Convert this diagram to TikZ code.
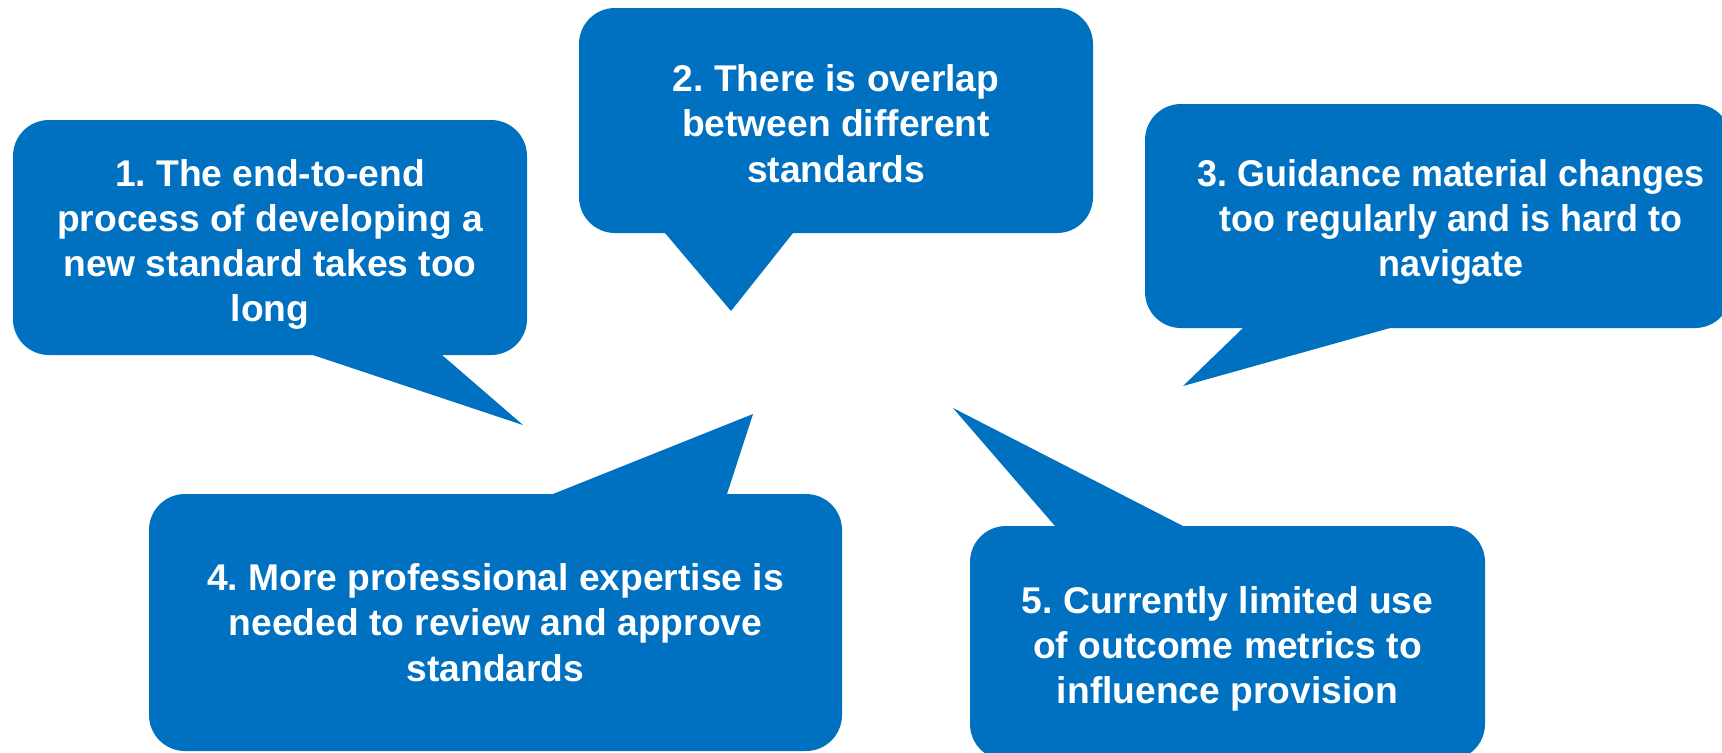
\documentclass[tikz,border=0pt]{standalone}
\usepackage{fontspec}
\setmainfont{Liberation Sans}
\newfontfamily\narrowsans[FakeStretch=0.965]{Liberation Sans}
\definecolor{bubbleblue}{RGB}{0,112,192}
\tikzset{
  bubble/.style={fill=bubbleblue, draw=none, rounded corners=18pt, inner sep=0pt},
  tail/.style={fill=bubbleblue, draw=none},
  bubbletext/.style={text=white, align=center,
    font=\fontsize{18.6}{22.6}\selectfont\bfseries}
}
\begin{document}
\frenchspacing
\begin{tikzpicture}[x=0.5pt, y=-0.5pt]
  \clip (0,0) rectangle (1722,752);
  \fill[white] (0,0) rectangle (1722,752);

  % speech bubble 1
  \node[bubble, minimum width=257pt, minimum height=117.5pt] (b1) at (270,237.5) {};
  \node[bubbletext, yshift=-3.5pt] (b1text) at (b1)
    {1. The end-to-end\\process of developing a\\new standard takes too\\long};
  \coordinate (t1) at (523,425);
  \fill[tail] (313,355) -- (t1) -- (442,355) -- (442,335) -- (313,335) -- cycle;

  % speech bubble 2
  \node[bubble, minimum width=257pt, minimum height=112.5pt] (b2) at (836,120.5) {};
  \node[bubbletext, yshift=-1.5pt] (b2text) at (b2)
    {2. There is overlap\\between different\\standards};
  \coordinate (t2) at (731,311);
  \fill[tail] (665,233) -- (t2) -- (793,233) -- (793,213) -- (665,213) -- cycle;

  % speech bubble 3
  \node[bubble, minimum width=293pt, minimum height=112pt] (b3) at (1438,216) {};
  \node[bubbletext, font=\fontsize{18.6}{22.6}\selectfont\narrowsans\bfseries] (b3text) at (1451,222)
    {3. Guidance material changes\\too regularly and is hard to\\navigate};
  \coordinate (t3) at (1183,386);
  \fill[tail] (1243,328) -- (t3) -- (1390,328) -- (1390,308) -- (1243,308) -- cycle;

  % speech bubble 4
  \node[bubble, minimum width=346.5pt, minimum height=128.5pt] (b4) at (495.5,622.5) {};
  \node[bubbletext] (b4text) at (b4)
    {4. More professional expertise is\\needed to review and approve\\standards};
  \coordinate (t4) at (753,414);
  \fill[tail] (553,494) -- (t4) -- (727,494) -- (727,514) -- (553,514) -- cycle;

  % speech bubble 5
  \node[bubble, minimum width=257.5pt, minimum height=117pt] (b5) at (1227.5,643) {};
  \node[bubbletext, yshift=-3pt] (b5text) at (b5)
    {5. Currently limited use\\of outcome metrics to\\influence provision};
  \coordinate (t5) at (953,408);
  \fill[tail] (1055,526) -- (t5) -- (1183,526) -- (1183,546) -- (1055,546) -- cycle;
\end{tikzpicture}
\end{document}
